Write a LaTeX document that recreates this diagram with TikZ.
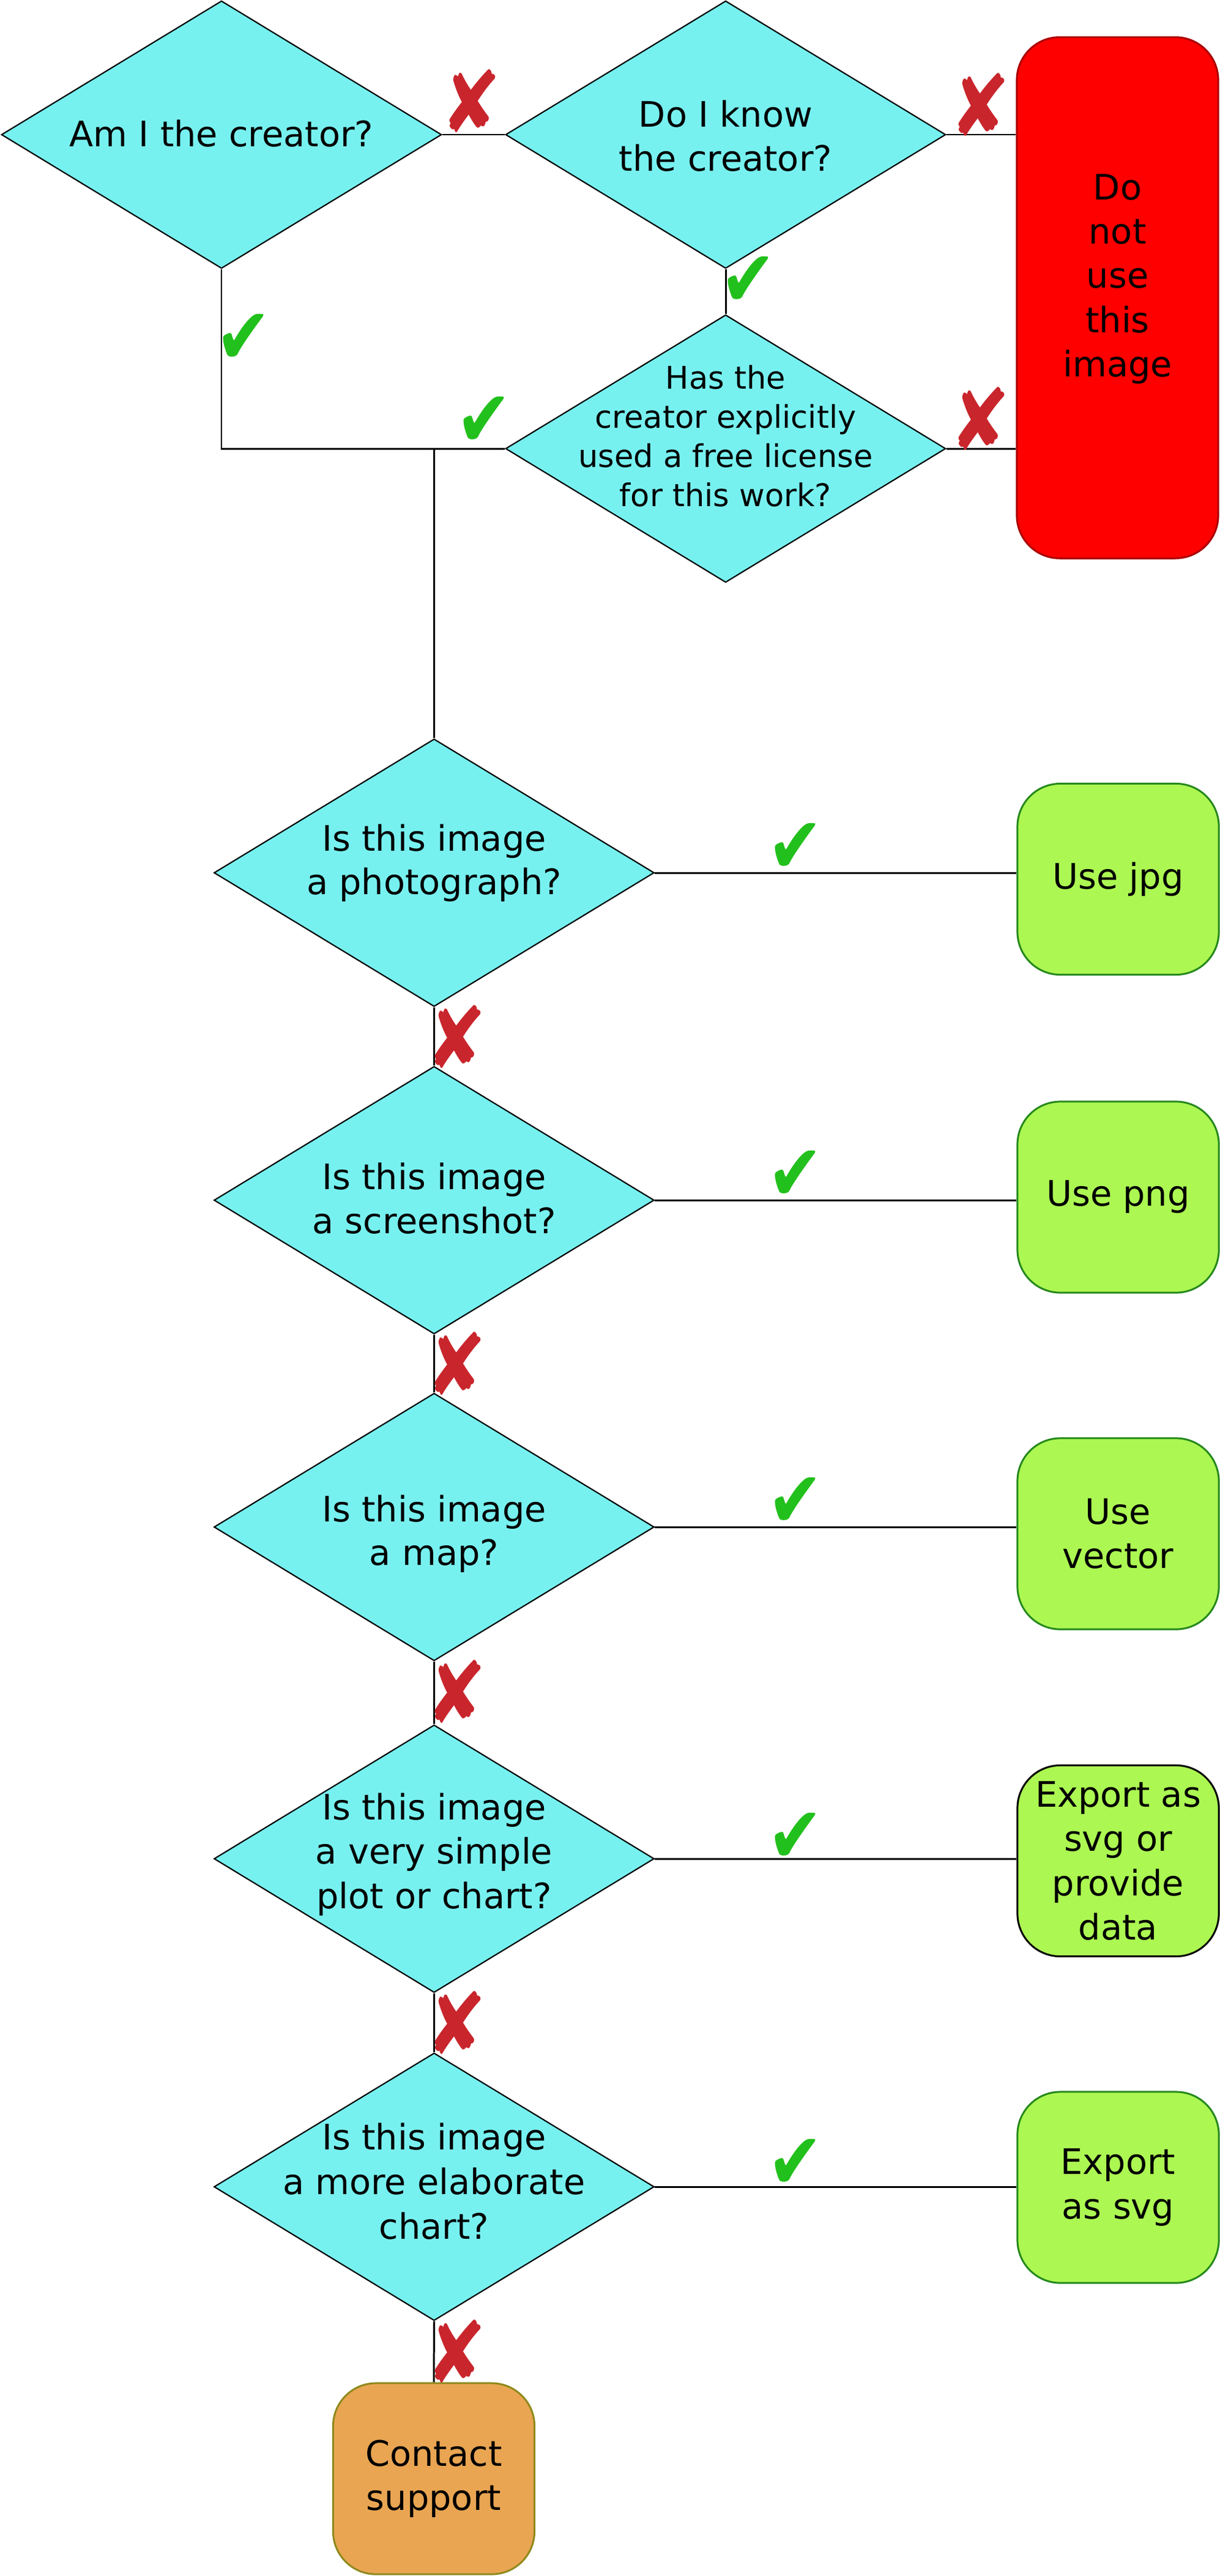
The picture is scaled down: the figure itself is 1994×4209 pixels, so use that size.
\documentclass[tikz,border=0pt]{standalone}
\usepackage{graphicx}
\usepackage{fontspec}
\setmainfont{DejaVu Sans}
\usetikzlibrary{shapes.geometric}

\definecolor{dcyan}{HTML}{77F1F0}
\definecolor{xred}{HTML}{C9252C}
\definecolor{ckgreen}{HTML}{22C01C}
\definecolor{lgreen}{HTML}{ACF752}
\definecolor{dgreen}{HTML}{26881C}
\definecolor{orng}{HTML}{E9A552}
\definecolor{olivebd}{HTML}{8E8A1C}
\definecolor{dred}{HTML}{AA0000}

\newcommand{\xglyph}{\scalebox{1.02}[1.2]{✘}}
\newcommand{\ckglyph}{\scalebox{1.03}[1.22]{✔}}

\begin{document}
\begin{tikzpicture}[x=0.01cm,y=-0.01cm,
  dia/.style={diamond, draw=black, line width=0.6pt, fill=dcyan, inner sep=0pt,
    minimum width=7.19cm, minimum height=4.37cm},
  qtext/.style={align=center, font=\fontsize{16.3}{20.3}\selectfont, inner sep=0pt},
  stxt/.style={align=center, font=\fontsize{14.5}{18.2}\selectfont, inner sep=0pt},
  box/.style={rounded corners=0.7cm, minimum width=3.29cm, minimum height=3.12cm,
    align=center, inner sep=2pt, font=\fontsize{16.3}{20.5}\selectfont, line width=0.85pt},
  wire/.style={line width=0.85pt},
  xmark/.style={text=xred, font=\fontsize{33}{33}\selectfont, inner sep=0pt},
  ckmark/.style={text=ckgreen, font=\fontsize{30}{30}\selectfont, inner sep=0pt}]

\useasboundingbox (0,0) rectangle (1994,4209);

% decision diamonds
\node[dia] (d1) at (362,220) {};
\node[dia] (d2) at (1186,220) {};
\node[dia] (d3) at (1186,733) {};
\node[dia] (d4) at (709.5,1426) {};
\node[dia] (d5) at (709.5,1961) {};
\node[dia] (d6) at (709.5,2495) {};
\node[dia] (d7) at (709.5,3037) {};
\node[dia] (d8) at (709.5,3573) {};

% question texts
\node[qtext] (t1) at (362,218) {Am I the creator?};
\node[qtext] (t2) at (1186,222) {Do I know\\the creator?};
\node[stxt] (t3) at (1186,712) {Has the\\creator explicitly\\used a free license\\for this work?};
\node[qtext] (t4) at (709.5,1410) {Is this image\\a photograph?};
\node[qtext] (t5) at (709.5,1958) {Is this image\\a screenshot?};
\node[qtext] (t6) at (709.5,2506) {Is this image\\a map?};
\node[qtext, font=\fontsize{16.3}{20.7}\selectfont] (t7) at (709.5,3030) {Is this image\\a very simple\\plot or chart?};
\node[qtext, font=\fontsize{16.3}{20.7}\selectfont] (t8) at (709.5,3564) {Is this image\\a more elaborate\\chart?};

% outcome boxes
\node[box, draw=dred, fill=red, minimum height=8.51cm] (stop) at (1826.5,486.5) {};
\node[qtext, font=\fontsize{16.3}{20.5}\selectfont] (stoptxt) at (1826.5,456) {Do\\not\\use\\this\\image};
\node[box, draw=dgreen, fill=lgreen] (jpg) at (1827.5,1436.5) {Use jpg};
\node[box, draw=dgreen, fill=lgreen] (png) at (1827.5,1956) {Use png};
\node[box, draw=dgreen, fill=lgreen] (vec) at (1827.5,2506) {Use\\vector};
\node[box, draw=black, fill=lgreen] (data) at (1827.5,3040.5) {Export as\\svg or\\provide\\data};
\node[box, draw=dgreen, fill=lgreen] (svg) at (1827.5,3574) {Export\\as svg};
\node[box, draw=olivebd, fill=orng] (contact) at (709,4050) {Contact\\support};

% connectors
\draw[wire] (d1.east) -- (d2.west);
\draw[wire] (d2.east) -- (d2.east -| stop.west);
\draw[wire] (d2.south) -- (d3.north);
\draw[wire] (d3.east) -- (d3.east -| stop.west);
\draw[wire] (d1.south) |- (d3.west);
\coordinate (j) at (d4.north |- d3.west);
\draw[wire] (j) -- (d4.north);
\draw[wire] (d4.east) -- (d4.east -| jpg.west);
\draw[wire] (d5.east) -- (d5.east -| png.west);
\draw[wire] (d6.east) -- (d6.east -| vec.west);
\draw[wire] (d7.east) -- (d7.east -| data.west);
\draw[wire] (d8.east) -- (d8.east -| svg.west);
\draw[wire] (d4.south) -- (d5.north);
\draw[wire] (d5.south) -- (d6.north);
\draw[wire] (d6.south) -- (d7.north);
\draw[wire] (d7.south) -- (d8.north);
\draw[wire] (d8.south) -- (contact.north);

% marks
\node[xmark] (x1) at (770,165) {\xglyph};
\node[xmark] (x2) at (1602,171) {\xglyph};
\node[xmark] (x3) at (1602,684) {\xglyph};
\node[ckmark] (c1) at (398,554) {\ckglyph};
\node[ckmark] (c2) at (1223,460) {\ckglyph};
\node[ckmark] (c3) at (791,689) {\ckglyph};
\node[ckmark] (c4) at (1300,1386) {\ckglyph};
\node[ckmark] (c5) at (1300,1921) {\ckglyph};
\node[ckmark] (c6) at (1300,2455) {\ckglyph};
\node[ckmark] (c7) at (1300,3003) {\ckglyph};
\node[ckmark] (c8) at (1300,3536) {\ckglyph};
\node[xmark] (x4) at (746,1694) {\xglyph};
\node[xmark] (x5) at (746,2228) {\xglyph};
\node[xmark] (x6) at (746,2764) {\xglyph};
\node[xmark] (x7) at (746,3305) {\xglyph};
\node[xmark] (x8) at (746,3842) {\xglyph};
\end{tikzpicture}
\end{document}
